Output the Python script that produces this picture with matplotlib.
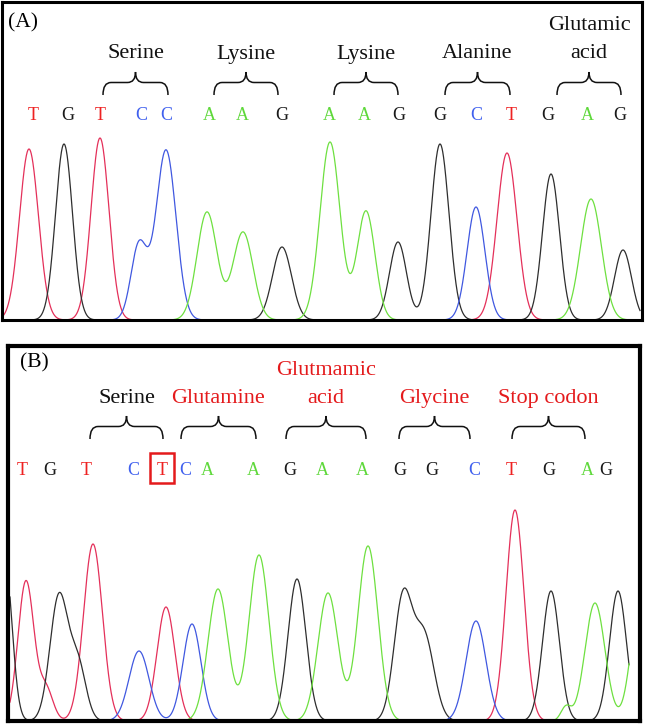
import matplotlib.pyplot as plt
from matplotlib.path import Path
from matplotlib.patches import PathPatch, Rectangle
import numpy as np

W, H = 645, 726
plt.rcParams['font.family'] = ['Liberation Serif', 'DejaVu Serif']

# ---- panel A: wild type ----
calls_a = 'TGTCCAAGAAGGCTGAG'
call_x_a = [33, 68, 100, 141, 166, 209, 242, 282, 329, 364, 399, 440, 476, 511, 548, 587, 620]
codons_a = ['Serine', 'Lysine', 'Lysine', 'Alanine', 'Glutamic\nacid']
codon_x1_a = [103, 214, 334, 445, 557]
codon_x2_a = [168, 278, 398, 510, 621]

peak_base_a = 'TGTCCAAGAAGGCTGAG'
peak_x_a = [29, 64, 100, 139, 166, 207, 243, 282, 330, 366, 398, 440, 476, 507, 551, 591, 623]
peak_h_a = [171, 176, 182, 75, 170, 108, 88, 73, 178, 109, 78, 176, 113, 167, 146, 121, 70]
peak_w_a = [9.5, 8.5, 9, 8, 10, 10, 10, 9.5, 10, 9, 8.5, 9, 9, 10, 8.5, 10.5, 8.5]

# ---- panel B: mutant ----
calls_b = 'TGTCTCAAGAAGGCTGAG'
call_x_b = [22, 50, 86, 133, 162, 185, 207, 253, 290, 322, 362, 400, 432, 474, 511, 549, 587, 606]
mutant_idx = 4
codons_b = ['Serine', 'Glutamine', 'Glutmamic\nacid', 'Glycine', 'Stop codon']
codon_x1_b = [90, 181, 286, 399, 512]
codon_x2_b = [163, 256, 366, 470, 585]
codon_red_b = [False, True, True, True, True]

peak_base_b = 'GTTGGTCTCAAGAAGGCTGAAGA'
peak_x_b = [5, 26, 46, 59, 78, 93, 139, 166, 192, 218, 259, 297, 328, 368, 403, 424, 476, 515, 551, 566, 595, 618, 640]
peak_h_b = [160, 140, 32, 125, 55, 177, 70, 114, 97, 132, 166, 142, 128, 175, 122, 85, 100, 211, 130, 14, 118, 130, 120]
peak_w_b = [7, 8, 7, 9, 8, 9.5, 10, 9, 9, 10, 10, 9, 10, 10, 9, 10, 10, 9, 8.5, 5, 10, 8.5, 9]

trace_col = {'T': '#e4305a', 'G': '#2e2e2e', 'C': '#4058e0', 'A': '#6ee040'}
text_col = {'T': '#ee2222', 'G': '#1a1a1a', 'C': '#4060ee', 'A': '#5ed83a'}
RED = '#e41a1c'


def panel(l, t, r, b, lw):
    ax = plt.gcf().add_axes([l / W, 1 - b / H, (r - l) / W, (b - t) / H])
    ax.set_xlim(l, r)
    ax.set_ylim(0, b - t)
    ax.set_xticks([])
    ax.set_yticks([])
    for s in ax.spines.values():
        s.set_linewidth(lw)
    return ax


def traces(ax, bases, xs, hs, ws, x0, x1):
    x = np.linspace(x0, x1, 3000)
    for ch in 'TGCA':
        y = np.zeros_like(x)
        for b, c, h, w in zip(bases, xs, hs, ws):
            if b == ch:
                y += h * np.exp(-0.5 * ((x - c) / w) ** 2)
        ax.plot(x, y, color=trace_col[ch], lw=0.9)


def brace(ax, x1, x2, y_end, y_line, y_tip, r=8):
    xm = (x1 + x2) / 2
    verts = [(x1, y_end), (x1, y_line), (x1 + r, y_line),
             (xm - r, y_line), (xm, y_line), (xm, y_tip),
             (xm, y_line), (xm + r, y_line),
             (x2 - r, y_line), (x2, y_line), (x2, y_end)]
    codes = [Path.MOVETO, Path.CURVE3, Path.CURVE3,
             Path.LINETO, Path.CURVE3, Path.CURVE3,
             Path.CURVE3, Path.CURVE3,
             Path.LINETO, Path.CURVE3, Path.CURVE3]
    ax.add_patch(PathPatch(Path(verts, codes), fill=False, lw=1.1, color='#111111'))


def header(ax, base_px, calls, call_x, names, x1s, x2s, colors, y_name, y_tip, y_letter):
    for ch, x in zip(calls, call_x):
        ax.text(x, base_px - y_letter, ch, color=text_col[ch], fontsize=13,
                ha='center', va='center')
    for name, a, b, c in zip(names, x1s, x2s, colors):
        lines = name.split('\n')
        for i, line in enumerate(reversed(lines)):
            ax.text((a + b) / 2, base_px - y_name + 28 * i, line, color=c,
                    fontsize=16, ha='center', va='center')
        brace(ax, a, b, base_px - (y_tip + 23), base_px - (y_tip + 10.5), base_px - y_tip)


fig = plt.figure(figsize=(W / 100, H / 100), dpi=100)

# panel A
ax_a = panel(2, 2, 642, 320, 2.2)
traces(ax_a, peak_base_a, peak_x_a, peak_h_a, peak_w_a, 3, 640)
header(ax_a, 320, calls_a, call_x_a, codons_a, codon_x1_a, codon_x2_a,
       ['#111111'] * 5, 54, 72, 115)
ax_a.text(8, 320 - 23, '(A)', fontsize=15.5, ha='left', va='center')

# panel B
ax_b = panel(8, 346, 640, 721, 3.0)
traces(ax_b, peak_base_b, peak_x_b, peak_h_b, peak_w_b, 10, 629)
header(ax_b, 721, calls_b, call_x_b, codons_b, codon_x1_b, codon_x2_b,
       [RED if red else '#111111' for red in codon_red_b], 398, 416, 470)
ax_b.text(20, 721 - 363, '(B)', fontsize=15.5, ha='left', va='center')
mx = call_x_b[mutant_idx]
ax_b.add_patch(Rectangle((mx - 12, 721 - 483), 24, 30, fill=False, ec=RED, lw=1.8))

fig.savefig('out.png', dpi=100)
